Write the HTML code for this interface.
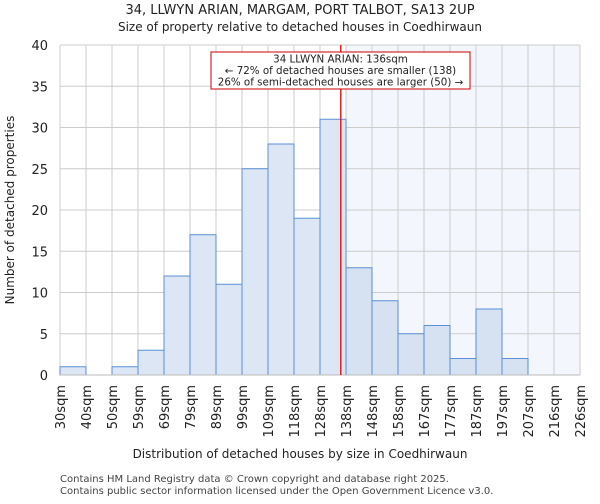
<!DOCTYPE html>
<html><head><meta charset="utf-8"><style>
body{margin:0;background:#fff;font-family:"DejaVu Sans","Liberation Sans",sans-serif;}
</style></head><body>
<svg width="600" height="500" xmlns="http://www.w3.org/2000/svg" font-family="DejaVu Sans, Liberation Sans, sans-serif">
<text x="300" y="14" text-anchor="middle" font-size="13" fill="#222">34, LLWYN ARIAN, MARGAM, PORT TALBOT, SA13 2UP</text>
<text x="300" y="31" text-anchor="middle" font-size="12" fill="#222">Size of property relative to detached houses in Coedhirwaun</text>
<g id="plot"></g>
<text x="300" y="458" text-anchor="middle" font-size="12" fill="#222">Distribution of detached houses by size in Coedhirwaun</text>
<text transform="translate(14,210) rotate(-90)" text-anchor="middle" font-size="12" fill="#222">Number of detached properties</text>
<text x="60" y="482" font-size="10" fill="#444">Contains HM Land Registry data © Crown copyright and database right 2025.</text>
<text x="60" y="494" font-size="10" fill="#444">Contains public sector information licensed under the Open Government Licence v3.0.</text>
</svg>
<script>
const binLabels=["30sqm","40sqm","50sqm","59sqm","69sqm","79sqm","89sqm","99sqm","109sqm","118sqm","128sqm","138sqm","148sqm","158sqm","167sqm","177sqm","187sqm","197sqm","207sqm","216sqm","226sqm"];
const counts=[1,0,1,3,12,17,11,25,28,19,31,13,9,5,6,2,8,2,0,0];
const yTicks=[0,5,10,15,20,25,30,35,40];
const propertyBin=10.8;
const highlightFromBin=11;
const NS="http://www.w3.org/2000/svg";
const L=60,R=580,T=45,B=375,yMax=40;
const bw=(R-L)/counts.length;
const xs=i=>L+i*bw;
const ys=v=>B-(v/yMax)*(B-T);
const g=document.getElementById('plot');
function mk(t,a){const e=document.createElementNS(NS,t);for(const k in a)e.setAttribute(k,a[k]);g.appendChild(e);return e;}
let e=mk('rect',{x:xs(highlightFromBin),y:T,width:R-xs(highlightFromBin),height:B-T,fill:'#f3f6fc'});


yTicks.forEach(v=>{
 let l=mk('line',{x1:L,x2:R,y1:ys(v),y2:ys(v),stroke:'#ccc','stroke-width':1});
 
 
 let t=mk('text',{x:L-12,y:ys(v)+5,'text-anchor':'end','font-size':13,fill:'#222'});
 t.textContent=v;
 
 
});
binLabels.forEach((lab,i)=>{
 let l=mk('line',{x1:xs(i),x2:xs(i),y1:T,y2:B,stroke:'#ccc','stroke-width':1});
 
 
 let t=mk('text',{transform:`translate(${xs(i)+5},${B+10}) rotate(-90)`,'text-anchor':'end','font-size':13,fill:'#222'});
 t.textContent=lab;
 
 
});
counts.forEach((c,i)=>{
 if(c<=0)return;
 let r=mk('rect',{x:xs(i),y:ys(c),width:bw,height:B-ys(c),fill:i>=highlightFromBin?'#d6e1f2':'#dce6f4',stroke:'#5b8fd6','stroke-width':1});
 
 
});
let ax=mk('line',{x1:L,x2:R,y1:B,y2:B,stroke:'#bbb','stroke-width':1});


const px=xs(propertyBin);
let pl=mk('line',{x1:px,x2:px,y1:T,y2:B,stroke:'#d00','stroke-width':1.3});


let box=mk('rect',{x:211,y:52,width:259,height:37,fill:'#fff',stroke:'#c00','stroke-width':1});


["34 LLWYN ARIAN: 136sqm","← 72% of detached houses are smaller (138)","26% of semi-detached houses are larger (50) →"].forEach((s,k)=>{
 let t=mk('text',{x:340.5,y:62.5+k*11.5,'text-anchor':'middle','font-size':10.3,fill:'#222'});
 t.textContent=s;
 
 
});
</script>
</body></html>
